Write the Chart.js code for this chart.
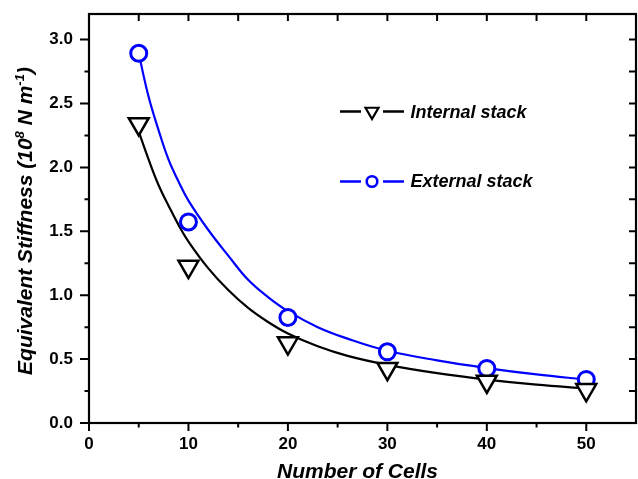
<!DOCTYPE html>
<html><head><meta charset="utf-8">
<script src="https://cdn.jsdelivr.net/npm/chart.js@4.4.0/dist/chart.umd.min.js"></script>
<style>html,body{margin:0;padding:0;background:#fff;overflow:hidden}#wrap{width:638px;height:479px;position:relative}canvas{display:block}</style>
</head><body><div id="wrap"><canvas id="c" width="638" height="479" style="width:638px;height:479px"></canvas></div>
<script>
// ---- data ----
const cellCounts = [5, 10, 20, 30, 40, 50];
const internalStack = [2.34, 1.224, 0.625, 0.425, 0.325, 0.26];
const externalStack = [2.893, 1.573, 0.826, 0.557, 0.427, 0.341];
// fitted curves
const fitCells = [5, 6, 7, 8, 9, 10, 12, 14, 16, 18, 20, 23, 26, 30, 35, 40, 45, 50];
const internalFit = [2.28, 2.06, 1.86, 1.70, 1.55, 1.42, 1.21, 1.04, 0.90, 0.79, 0.70, 0.60, 0.525, 0.455, 0.39, 0.34, 0.30, 0.27];
const externalFit = [2.89, 2.55, 2.29, 2.06, 1.89, 1.74, 1.51, 1.31, 1.12, 0.985, 0.875, 0.75, 0.66, 0.565, 0.49, 0.43, 0.38, 0.34];
// ticks
const xTickLabels = [0, 10, 20, 30, 40, 50];
const xMinorTicks = [5, 15, 25, 35, 45];
const yTickLabels = [0.0, 0.5, 1.0, 1.5, 2.0, 2.5, 3.0];
const yMinorTicks = [0.25, 0.75, 1.25, 1.75, 2.25, 2.75];
const seriesNames = ['Internal stack', 'External stack'];
const xTitle = 'Number of Cells';
const yTitleParts = [['Equivalent Stiffness (10', 0], ['8', 1], [' N m', 0], ['-1', 1], [')', 0]];

const BLUE = '#0000ff';
const FONT = '"Liberation Sans", Arial, Helvetica, sans-serif';

const pts = (xs, ys) => xs.map((v, i) => ({x: v, y: ys[i]}));

const decorPlugin = {
  id: 'decor',
  afterDraw(chart) {
    const {ctx, chartArea: a, scales: {x, y}} = chart;
    ctx.save();
    ctx.strokeStyle = '#000';
    ctx.lineWidth = 2;
    ctx.beginPath();
    xTickLabels.forEach(v => { const p = x.getPixelForValue(v);
      ctx.moveTo(p, a.bottom); ctx.lineTo(p, a.bottom + 8);
      ctx.moveTo(p, a.top); ctx.lineTo(p, a.top + 7); });
    xMinorTicks.forEach(v => { const p = x.getPixelForValue(v);
      ctx.moveTo(p, a.bottom); ctx.lineTo(p, a.bottom + 4.5);
      ctx.moveTo(p, a.top); ctx.lineTo(p, a.top + 7); });
    yTickLabels.forEach(v => { const p = y.getPixelForValue(v);
      ctx.moveTo(a.left, p); ctx.lineTo(a.left - 9, p);
      ctx.moveTo(a.right, p); ctx.lineTo(a.right - 7, p); });
    yMinorTicks.forEach(v => { const p = y.getPixelForValue(v);
      ctx.moveTo(a.left, p); ctx.lineTo(a.left - 4.5, p);
      ctx.moveTo(a.right, p); ctx.lineTo(a.right - 7, p); });
    ctx.stroke();
    ctx.lineWidth = 2.2;
    ctx.strokeRect(a.left, a.top, a.right - a.left, a.bottom - a.top);

    // x title
    ctx.fillStyle = '#000';
    ctx.font = 'italic bold 21px ' + FONT;
    ctx.textAlign = 'center';
    ctx.textBaseline = 'alphabetic';
    ctx.fillText(xTitle, 357.5, 477.5);

    // y title with superscripts
    ctx.save();
    ctx.translate(32, 221);
    ctx.rotate(-Math.PI / 2);
    ctx.textAlign = 'left';
    const mainF = 'italic bold 21px ' + FONT, supF = 'italic bold 13px ' + FONT;
    let total = 0;
    yTitleParts.forEach(([t, s]) => { ctx.font = s ? supF : mainF; total += ctx.measureText(t).width; });
    let cx = -total / 2;
    yTitleParts.forEach(([t, s]) => { ctx.font = s ? supF : mainF; ctx.fillText(t, cx, s ? -8 : 0); cx += ctx.measureText(t).width; });
    ctx.restore();

    // legend
    const rows = [
      {y: 111.5, color: '#000', shape: 'tri', label: seriesNames[0], ty: 117.5},
      {y: 181.5, color: BLUE, shape: 'circ', label: seriesNames[1], ty: 187}
    ];
    rows.forEach(r => {
      ctx.strokeStyle = r.color;
      ctx.lineWidth = 2.5;
      ctx.beginPath();
      ctx.moveTo(340, r.y); ctx.lineTo(361, r.y);
      ctx.moveTo(383, r.y); ctx.lineTo(404, r.y);
      ctx.stroke();
      ctx.fillStyle = '#fff';
      ctx.beginPath();
      if (r.shape === 'tri') {
        const R = 7.5, cxp = 372, cyp = r.y;
        ctx.moveTo(cxp, cyp + R);
        ctx.lineTo(cxp - R * 0.866, cyp - R / 2);
        ctx.lineTo(cxp + R * 0.866, cyp - R / 2);
        ctx.closePath();
        ctx.lineWidth = 2.2;
      } else {
        ctx.arc(372, r.y, 5.3, 0, Math.PI * 2);
        ctx.lineWidth = 2.6;
      }
      ctx.fill(); ctx.stroke();
      ctx.fillStyle = '#000';
      ctx.font = 'italic bold 18px ' + FONT;
      ctx.textAlign = 'left';
      ctx.fillText(r.label, 410.5, r.ty);
    });
    ctx.restore();
  }
};

new Chart(document.getElementById('c'), {
  type: 'scatter',
  data: {
    datasets: [
      {label: seriesNames[0], data: pts(cellCounts, internalStack), showLine: false, order: 0,
        pointStyle: 'triangle', rotation: 180, pointRadius: 11.5, pointHoverRadius: 11.5,
        borderColor: '#000', backgroundColor: '#fff', borderWidth: 2.5, pointBorderWidth: 2.5},
      {label: seriesNames[1], data: pts(cellCounts, externalStack), showLine: false, order: 0,
        pointStyle: 'circle', pointRadius: 8, pointHoverRadius: 8,
        borderColor: BLUE, backgroundColor: '#fff', borderWidth: 3, pointBorderWidth: 3},
      {label: seriesNames[0] + ' fit', data: pts(fitCells, internalFit), showLine: true, order: 1,
        pointRadius: 0, borderColor: '#000', borderWidth: 2.2, tension: 0.4, fill: false},
      {label: seriesNames[1] + ' fit', data: pts(fitCells, externalFit), showLine: true, order: 1,
        pointRadius: 0, borderColor: BLUE, borderWidth: 2.2, tension: 0.4, fill: false}
    ]
  },
  options: {
    responsive: false,
    maintainAspectRatio: false,
    animation: false,
    devicePixelRatio: 1,
    layout: {autoPadding: false, padding: {top: 14, right: 2, left: 0, bottom: 0}},
    plugins: {legend: {display: false}, tooltip: {enabled: false}},
    events: [],
    scales: {
      x: {
        type: 'linear', min: 0, max: 55,
        grid: {display: false, drawTicks: false, tickLength: 0}, border: {display: false},
        title: {display: false, text: xTitle},
        afterBuildTicks: s => { s.ticks = xTickLabels.map(v => ({value: v})); },
        afterFit: s => { s.height = 56; s.paddingLeft = 0; s.paddingRight = 0; s.paddingTop = 0; s.paddingBottom = 0; },
        ticks: {padding: 11, color: '#000', font: {family: FONT, size: 17, weight: 'bold'}, maxRotation: 0,
          callback: v => String(v)}
      },
      y: {
        type: 'linear', min: 0, max: 3.2,
        grid: {display: false, drawTicks: false, tickLength: 0}, border: {display: false},
        title: {display: false, text: 'Equivalent Stiffness (10^8 N m^-1)'},
        afterBuildTicks: s => { s.ticks = yTickLabels.map(v => ({value: v})); },
        afterFit: s => { s.width = 89; s.paddingLeft = 0; s.paddingRight = 0; s.paddingTop = 0; s.paddingBottom = 0; },
        ticks: {padding: 16, color: '#000', font: {family: FONT, size: 17, weight: 'bold'},
          callback: v => Number(v).toFixed(1)}
      }
    }
  },
  plugins: [decorPlugin]
});
</script></body></html>
